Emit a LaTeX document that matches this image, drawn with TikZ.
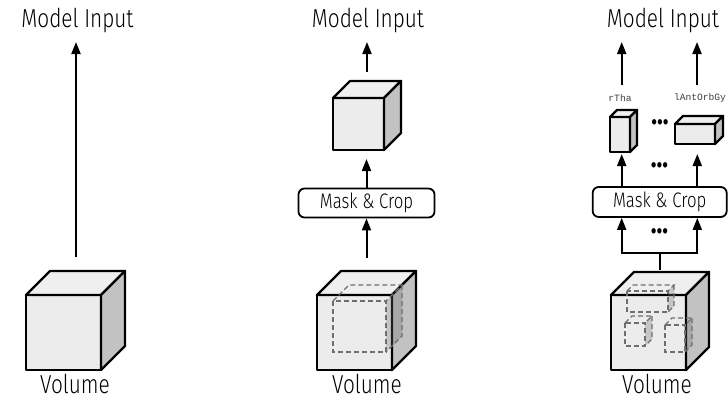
\documentclass[tikz,border=0pt]{standalone}
\usepackage{fontspec}
\setmainfont{Fira Sans}[UprightFont={* Light}, BoldFont={* Bold}, FakeStretch=0.8]
\setmonofont{Liberation Mono}
\usetikzlibrary{arrows.meta}

\definecolor{facefront}{HTML}{ECECEC}
\definecolor{facetop}{HTML}{EFEFEF}
\definecolor{faceside}{HTML}{C2C2C2}
\definecolor{dashgray}{HTML}{6E6E6E}

\tikzset{
  cubeedge/.style={draw=black, line width=2.4pt, line join=round},
  dashedge/.style={draw=dashgray, line width=1.3pt, dash pattern=on 5pt off 3pt},
  flowline/.style={line width=2pt},
  flowarrow/.style={line width=2pt, -{Triangle[length=12pt,width=9pt]}},
  cropbox/.style={draw, line width=1.8pt, rounded corners=6pt, minimum width=136pt,
    minimum height=29pt, inner sep=0pt, font=\fontsize{21}{21}\selectfont},
  biglabel/.style={anchor=base, font=\fontsize{26}{26}\selectfont},
  roilabel/.style={font=\ttfamily\fontsize{9.6}{9.6}\selectfont, text=black!75, inner sep=1pt},
  dotsep/.style={font=\bfseries\fontsize{30}{30}\selectfont, inner sep=0pt}
}

% #1,#2 front top left corner, #3 width, #4 height, #5 depth
\newcommand{\solidcube}[5]{%
  \draw[cubeedge, fill=facefront] (#1,#2) rectangle ({#1+#3},{#2+#4});
  \draw[cubeedge, fill=facetop] (#1,#2) -- ++(#5,-#5) -- ++(#3,0) -- ({#1+#3},#2) -- cycle;
  \draw[cubeedge, fill=faceside] ({#1+#3},#2) -- ++(#5,-#5) -- ++(0,#4) -- ({#1+#3},{#2+#4}) -- cycle;
}
\newcommand{\dashcube}[5]{%
  \fill[dashgray, opacity=0.3] ({#1+#3},#2) -- ++(#5,-#5) -- ++(0,#4) -- ({#1+#3},{#2+#4}) -- cycle;
  \draw[dashedge] (#1,#2) rectangle ({#1+#3},{#2+#4});
  \draw[dashedge] (#1,#2) -- ++(#5,-#5) -- ++(#3,0) -- ({#1+#3},#2);
  \draw[dashedge] ({#1+#3+#5},{#2-#5}) -- ++(0,#4) -- ({#1+#3},{#2+#4});
}

\begin{document}
\begin{tikzpicture}[x=1pt,y=-1pt]
\useasboundingbox[fill=white] (0,0) rectangle (728,408);
% Panel 1: whole volume
\solidcube{26}{295}{75}{75}{24}
\node[biglabel] (vol1) at (75,393) {Volume};
\node[biglabel] (in1) at (77.5,27) {Model Input};
\coordinate (vol1top) at (76,257);
\coordinate (in1tip) at (76,42);
\draw[flowarrow] (vol1top) -- (in1tip);
% Panel 2: one region
\solidcube{317}{295}{75}{75}{24}
\dashcube{333}{301}{53}{51}{16}
\node[biglabel] (vol2) at (367,393) {Volume};
\node[biglabel] (in2) at (368,27) {Model Input};
\node[cropbox] (crop2) at (366.5,203) {Mask \& Crop};
\solidcube{333}{98}{51}{52}{17}
\coordinate (vol2top) at (366.5,258);
\coordinate (roi2bot) at (366.5,159);
\coordinate (roi2top) at (367,72);
\coordinate (in2tip) at (367,42);
\draw[flowarrow] (vol2top) -- (crop2.south);
\draw[flowarrow] (crop2.north) -- (roi2bot);
\draw[flowarrow] (roi2top) -- (in2tip);
% Panel 3: several regions
\solidcube{611}{295}{75}{75}{23}
\dashcube{627}{291}{41}{21}{6}
\dashcube{625}{323}{20}{23}{7}
\dashcube{665}{325}{20}{27}{7}
\node[biglabel] (vol3) at (657,393) {Volume};
\node[biglabel] (in3) at (663,27) {Model Input};
\node[cropbox, minimum width=134pt, minimum height=30pt] (crop3) at (659.7,202) {Mask \& Crop};
\coordinate (vol3top) at (659.5,270);
\coordinate (fork3) at (659.5,253);
\coordinate (forkL) at (621.7,253);
\coordinate (forkR) at (697.3,253);
\draw[flowline] (vol3top) -- (fork3);
\draw[flowline, line cap=rect] (forkL) -- (forkR);
\draw[flowarrow] (forkL) -- (forkL |- crop3.south);
\draw[flowarrow] (forkR) -- (forkR |- crop3.south);
\node[dotsep] (dotsA) at (659.5,231) {...};
\coordinate (roiLbot) at (621.7,154);
\coordinate (roiRbot) at (697.3,154);
\draw[flowarrow] (roiLbot |- crop3.north) -- (roiLbot);
\draw[flowarrow] (roiRbot |- crop3.north) -- (roiRbot);
\node[dotsep] (dotsB) at (659.5,165) {...};
\solidcube{610}{117}{20}{35}{7}
\solidcube{675}{124}{40}{20}{8}
\node[dotsep] (dotsC) at (660,122) {...};
\node[roilabel] (lblL) at (620,98) {rTha};
\node[roilabel] (lblR) at (700,98) {lAntOrbGy};
\coordinate (lblLtop) at (621.7,85);
\coordinate (lblRtop) at (697,85);
\coordinate (in3tip) at (659,42);
\draw[flowarrow] (lblLtop) -- (lblLtop |- in3tip);
\draw[flowarrow] (lblRtop) -- (lblRtop |- in3tip);
\end{tikzpicture}
\end{document}
